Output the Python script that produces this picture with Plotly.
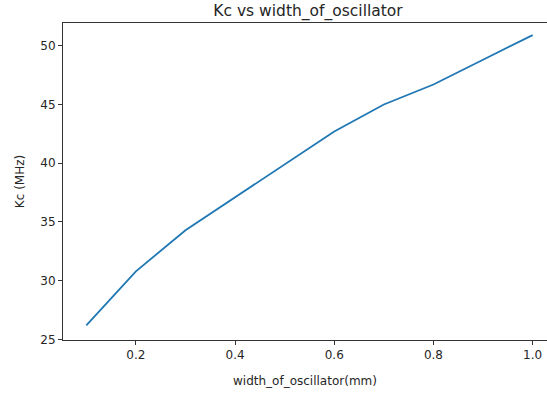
import plotly.graph_objects as go

widths_mm = [0.1, 0.2, 0.3, 0.4, 0.5, 0.6, 0.7, 0.8, 0.9, 1.0]
kc_mhz = [26.2, 30.8, 34.3, 37.1, 39.95, 42.7, 45.0, 46.7, 48.8, 50.9]

x_ticks = [0.2, 0.4, 0.6, 0.8, 1.0]
x_tick_labels = ["0.2", "0.4", "0.6", "0.8", "1.0"]
y_ticks = [25, 30, 35, 40, 45, 50]
y_tick_labels = ["25", "30", "35", "40", "45", "50"]

font_family = "DejaVu Sans"
text_color = "#262626"

fig = go.Figure()
fig.add_trace(go.Scatter(
    x=widths_mm, y=kc_mhz, mode="lines",
    line=dict(color="#1f77b4", width=1.8),
    showlegend=False,
))

fig.update_layout(
    width=547, height=396,
    margin=dict(l=63, r=0, t=23, b=56, pad=0),
    paper_bgcolor="white", plot_bgcolor="white",
    font=dict(family=font_family, size=12, color=text_color),
    title=dict(text="Kc vs width_of_oscillator", x=(308 - 0) / 547, xanchor="center",
               y=1 - 11 / 396, yanchor="middle",
               font=dict(size=15.5, color=text_color)),
)
fig.update_xaxes(
    range=[0.053, 1.029],
    tickvals=x_ticks, ticktext=x_tick_labels,
    showgrid=False, zeroline=False,
    showline=True, linecolor="#333333", linewidth=1, mirror=True,
    ticks="outside", ticklen=4, tickcolor="#333333", tickwidth=1,
    tickfont=dict(size=12),
    title=dict(text="width_of_oscillator(mm)", font=dict(size=12), standoff=15),
)
fig.update_yaxes(
    range=[24.96, 51.93],
    tickvals=y_ticks, ticktext=y_tick_labels,
    showgrid=False, zeroline=False,
    showline=True, linecolor="#333333", linewidth=1, mirror=False,
    ticks="outside", ticklen=4, tickcolor="#333333", tickwidth=1,
    tickfont=dict(size=12),
    title=dict(text="Kc (MHz)", font=dict(size=12), standoff=13),
)

fig.write_html("out.html")
